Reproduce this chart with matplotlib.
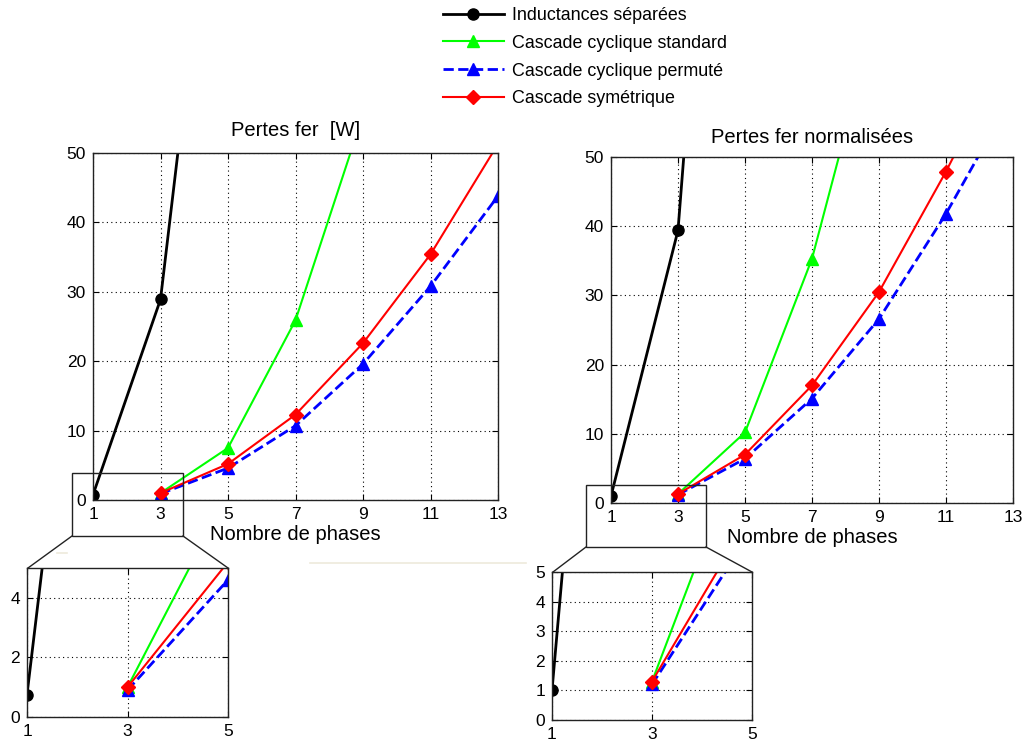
import matplotlib
matplotlib.use("Agg")
import matplotlib.pyplot as plt
from matplotlib.lines import Line2D
from matplotlib.patches import Rectangle

plt.rcParams['font.family'] = ['Liberation Sans', 'DejaVu Sans']

#-------------------- DATA -------------------#
x_black = [1, 3, 5]
x_green = [3, 5, 7, 9]
x_other = [3, 5, 7, 9, 11, 13]

# Pertes fer [W]
sep_w = [0.75, 28.9, 111]
std_w = [1.0, 7.5, 25.9, 55.5]
perm_w = [0.9, 4.6, 10.7, 19.6, 30.8, 43.8]
sym_w = [1.0, 5.2, 12.3, 22.6, 35.4, 51.3]

# Pertes fer normalisees
sep_n = [1.0, 39.4, 163]
std_n = [1.3, 10.2, 35.3, 72]
perm_n = [1.2, 6.4, 15.1, 26.6, 41.8, 59]
sym_n = [1.3, 7.0, 17.0, 30.5, 47.9, 67]

labels = ['Inductances séparées', 'Cascade cyclique standard',
          'Cascade cyclique permuté', 'Cascade symétrique']

main_xticks = [1, 3, 5, 7, 9, 11, 13]
main_yticks = [0, 10, 20, 30, 40, 50]

#-------------------- FIGURE -------------------#
W, H = 1026, 745
fig = plt.figure(figsize=(W / 100, H / 100), dpi=100)


def px_box(x0, y0, x1, y1):
    # pixel box (top-left origin) -> figure fraction rect
    return [x0 / W, 1 - y1 / H, (x1 - x0) / W, (y1 - y0) / H]


def draw_series(ax, sep, std, perm, sym):
    h1, = ax.plot(x_black, sep, '-o', color='k', lw=2, ms=8)
    h2, = ax.plot(x_green, std, '-^', color='#00ff00', lw=1.5, ms=9)
    h3, = ax.plot(x_other, perm, '--^', color='b', lw=2, ms=9)
    h4, = ax.plot(x_other, sym, '-D', color='r', lw=1.5, ms=7.5)
    return [h1, h2, h3, h4]


def style_axes(ax, xt, yt, xlim, ylim):
    ax.set_xlim(xlim)
    ax.set_ylim(ylim)
    ax.set_xticks(xt)
    ax.set_yticks(yt)
    ax.grid(True, color='k', linestyle=(0, (1, 3)), linewidth=0.8)
    ax.tick_params(direction='in', top=True, right=True, length=4,
                   labelsize=12.5, pad=5)
    for s in ax.spines.values():
        s.set_linewidth(1.0)
        s.set_color('#222222')


#-------------------- MAIN PLOTS -------------------#
ax1 = fig.add_axes(px_box(93, 153, 498, 500))
handles = draw_series(ax1, sep_w, std_w, perm_w, sym_w)
style_axes(ax1, main_xticks, main_yticks, (1, 13), (0, 50))
ax1.set_title('Pertes fer  [W]', fontsize=14.5, pad=12)
ax1.set_xlabel('Nombre de phases', fontsize=14.5, labelpad=2)

ax2 = fig.add_axes(px_box(611, 157, 1013, 503))
draw_series(ax2, sep_n, std_n, perm_n, sym_n)
style_axes(ax2, main_xticks, main_yticks, (1, 13), (0, 50))
ax2.set_title('Pertes fer normalisées', fontsize=14.5, pad=10)
ax2.set_xlabel('Nombre de phases', fontsize=14.5, labelpad=2)

#-------------------- ZOOM INSETS -------------------#
ax3 = fig.add_axes(px_box(27, 568, 228, 717))
draw_series(ax3, sep_w, std_w, perm_w, sym_w)
style_axes(ax3, [1, 3, 5], [0, 2, 4], (1, 5), (0, 5))

ax4 = fig.add_axes(px_box(552, 572, 752, 720))
draw_series(ax4, sep_n, std_n, perm_n, sym_n)
style_axes(ax4, [1, 3, 5], [0, 1, 2, 3, 4, 5], (1, 5), (0, 5))

# zoom rectangles and connectors (figure pixels)
def fig_line(x0, y0, x1, y1, color='#222222', lw=1.0):
    fig.add_artist(Line2D([x0 / W, x1 / W], [1 - y0 / H, 1 - y1 / H],
                          transform=fig.transFigure, color=color, lw=lw))


for (x0, y0, x1, y1) in [(72, 473, 183, 536), (586, 485, 706, 547)]:
    fig.add_artist(Rectangle((x0 / W, 1 - y1 / H), (x1 - x0) / W, (y1 - y0) / H,
                             transform=fig.transFigure, fill=False,
                             edgecolor='#222222', lw=1.0, zorder=5))
fig_line(72, 536, 28, 568)
fig_line(183, 536, 228, 568)
fig_line(586, 547, 553, 572)
fig_line(706, 547, 752, 572)

# faint artefact lines
fig_line(310, 563, 526, 563, color='#eeeadc', lw=1.2)
fig_line(57, 553, 67, 553, color='#eeeadc', lw=1.2)

#-------------------- LEGEND -------------------#
fig.legend(handles, labels, loc='upper left',
           bbox_to_anchor=(443 / W, 1 - 7 / H), frameon=False,
           fontsize=12.9, handlelength=3.4, handletextpad=0.45,
           labelspacing=0.60, borderpad=0, borderaxespad=0)

plt.savefig('out.png', dpi=100)
